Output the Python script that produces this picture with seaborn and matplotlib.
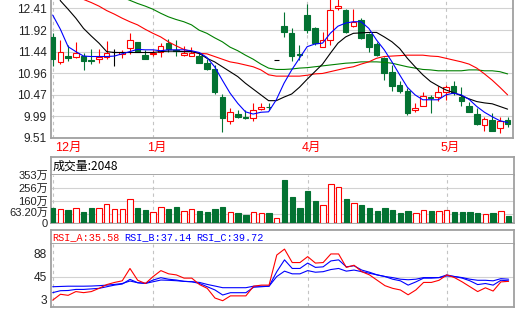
import numpy as np
import pandas as pd
import matplotlib
matplotlib.use("Agg")
import matplotlib.pyplot as plt
import matplotlib.transforms as mtransforms
import seaborn as sns

sns.set_style("white")
plt.rcParams["font.family"] = ["Liberation Sans", "Noto Sans CJK SC"]

# ---------------- data ----------------
open_ = [11.76, 11.21, 11.34, 11.31, 11.34, 11.25, 11.27, 11.31, 11.42, 11.39,
         11.51, 11.65, 11.36, 11.39, 11.44, 11.64, 11.48, 11.36, 11.34, 11.34,
         11.19, 11.05, 10.42, 9.89, 10.04, 9.98, 9.95, 10.15, 10.20, 11.25,
         12.02, 11.85, 11.38, 12.26, 11.96, 11.55, 11.70, 12.41, 12.37, 12.02,
         12.15, 11.84, 11.61, 11.29, 10.98, 10.69, 10.56, 10.13, 10.21, 10.43,
         10.43, 10.54, 10.67, 10.42, 10.22, 10.04, 9.80, 9.91, 9.72, 9.91]
high = [11.86, 11.70, 11.59, 11.66, 11.40, 11.49, 11.49, 11.67, 11.49, 11.48,
        11.85, 11.66, 11.48, 11.48, 11.64, 11.72, 11.70, 11.57, 11.55, 11.40,
        11.27, 11.14, 10.48, 10.17, 10.13, 10.13, 10.28, 10.28, 10.28, 11.25,
        12.33, 11.96, 11.59, 12.51, 12.00, 11.89, 12.62, 12.65, 12.39, 12.39,
        12.19, 11.86, 11.66, 11.33, 11.14, 10.79, 10.62, 10.28, 10.54, 10.47,
        10.67, 10.69, 10.79, 10.64, 10.32, 10.17, 9.97, 10.06, 9.97, 9.97]
low = [11.12, 11.16, 11.23, 11.29, 11.03, 11.16, 11.18, 11.27, 11.12, 11.29,
       11.39, 11.42, 11.27, 11.34, 11.33, 11.42, 11.34, 11.34, 11.34, 11.18,
       11.03, 10.48, 9.64, 9.82, 9.95, 9.92, 9.89, 10.13, 10.12, 11.25,
       11.77, 11.24, 11.25, 11.85, 11.59, 11.54, 11.59, 12.37, 11.86, 12.00,
       11.72, 11.44, 11.34, 10.80, 10.56, 10.51, 10.02, 10.09, 10.21, 10.07,
       10.34, 10.36, 10.47, 10.21, 10.09, 9.80, 9.66, 9.67, 9.61, 9.76]
close = [11.28, 11.44, 11.30, 11.40, 11.24, 11.24, 11.33, 11.40, 11.42, 11.44,
         11.70, 11.44, 11.27, 11.40, 11.57, 11.49, 11.45, 11.40, 11.41, 11.19,
         11.05, 10.54, 9.96, 10.08, 9.97, 9.95, 10.13, 10.19, 10.19, 11.25,
         11.89, 11.35, 11.36, 11.92, 11.63, 11.69, 12.37, 12.46, 11.89, 12.11,
         11.74, 11.55, 11.36, 10.97, 10.67, 10.56, 10.06, 10.18, 10.45, 10.39,
         10.54, 10.65, 10.51, 10.34, 10.09, 9.82, 9.93, 9.67, 9.89, 9.82]

ma5 = [12.26, 11.94, 11.55, 11.44, 11.34, 11.33, 11.33, 11.33, 11.34, 11.39,
       11.44, 11.49, 11.48, 11.48, 11.46, 11.48, 11.48, 11.48, 11.46, 11.42,
       11.31, 11.10, 10.80, 10.51, 10.28, 10.09, 10.04, 10.08, 10.09, 10.36,
       10.73, 11.03, 11.29, 11.55, 11.61, 11.63, 11.85, 12.01, 12.08, 12.11,
       12.11, 11.96, 11.70, 11.48, 11.21, 10.92, 10.64, 10.47, 10.36, 10.36,
       10.36, 10.47, 10.51, 10.47, 10.37, 10.21, 10.08, 9.98, 9.89, 9.85]
ma10 = [13.16, 12.58, 12.39, 12.19, 11.96, 11.79, 11.63, 11.44, 11.42, 11.42,
        11.42, 11.42, 11.42, 11.42, 11.44, 11.45, 11.45, 11.44, 11.44, 11.40,
        11.29, 11.21, 11.10, 10.99, 10.88, 10.73, 10.60, 10.47, 10.34, 10.34,
        10.42, 10.49, 10.64, 10.82, 10.99, 11.16, 11.40, 11.63, 11.77, 11.85,
        11.86, 11.87, 11.87, 11.77, 11.66, 11.51, 11.29, 11.10, 10.92, 10.77,
        10.67, 10.58, 10.52, 10.45, 10.38, 10.32, 10.29, 10.27, 10.21, 10.15]
ma20 = [np.nan, np.nan, np.nan, 12.69, 12.61, 12.54, 12.46, 12.36, 12.28, 12.19,
        12.11, 12.04, 11.94, 11.85, 11.77, 11.66, 11.57, 11.49, 11.44, 11.40,
        11.39, 11.33, 11.27, 11.21, 11.18, 11.14, 11.10, 11.03, 10.92, 10.89,
        10.89, 10.89, 10.89, 10.91, 10.94, 10.95, 10.99, 11.03, 11.07, 11.10,
        11.16, 11.21, 11.29, 11.33, 11.34, 11.35, 11.36, 11.36, 11.36, 11.34,
        11.33, 11.29, 11.25, 11.21, 11.16, 11.07, 10.94, 10.80, 10.64, 10.47]
ma60 = [np.nan, np.nan, np.nan, np.nan, np.nan, np.nan, np.nan, np.nan, np.nan, 12.66,
        12.59, 12.52, 12.46, 12.39, 12.30, 12.22, 12.16, 12.11, 12.04, 11.92,
        11.85, 11.75, 11.66, 11.54, 11.46, 11.36, 11.27, 11.16, 11.07, 11.04,
        11.04, 11.05, 11.07, 11.08, 11.10, 11.12, 11.14, 11.16, 11.18, 11.19,
        11.21, 11.21, 11.21, 11.20, 11.18, 11.14, 11.10, 11.07, 11.04, 11.03,
        11.01, 11.01, 11.01, 11.01, 11.03, 11.03, 11.01, 11.01, 10.99, 10.94]

volume = [110, 102, 97, 110, 83, 112, 110, 139, 102, 102,
          175, 112, 93, 83, 117, 105, 119, 90, 102, 90,
          78, 105, 119, 78, 71, 61, 83, 75, 75, 37,
          317, 192, 112, 236, 163, 134, 287, 263, 178, 148,
          134, 112, 90, 112, 97, 75, 90, 75, 97, 90,
          90, 97, 83, 83, 83, 75, 68, 75, 90, 53]

rsi_a = [1, 12, 10, 17, 15, 17, 23, 30, 34, 37,
         60, 38, 32, 45, 56, 50, 48, 42, 42, 30,
         23, 5, 0, 9, 9, 9, 27, 29, 29, 85,
         96, 71, 71, 82, 70, 71, 87, 87, 62, 66,
         54, 48, 38, 28, 23, 20, 11, 20, 34, 34,
         38, 48, 43, 35, 26, 17, 24, 18, 35, 36]
rsi_b = [15, 18.6, 19, 21, 21, 22, 23, 26, 29, 31,
         39.7, 33.5, 32.2, 38.5, 42.8, 40, 38.5, 36, 35.3, 32,
         26, 20, 10.6, 14.9, 14.9, 14.9, 25, 26, 27, 54,
         76, 60, 60, 70, 62, 63, 74, 76, 63, 65,
         57, 53, 48, 45, 40, 37, 29, 35, 42, 42,
         43, 48, 45, 42, 37, 30, 32, 29, 38, 37]
rsi_c = [26, 26.5, 27, 27, 27, 27.3, 28, 29, 30.3, 32,
         36.6, 33.5, 32.2, 35.3, 38.5, 38, 37.2, 36, 35.3, 34,
         30.3, 27.3, 24.2, 24.2, 24.2, 24.2, 27, 27, 27, 45,
         55, 50, 50, 56, 53, 54, 58, 60, 55, 57,
         54, 51, 48, 45, 43, 40, 39, 40, 43, 43,
         43, 46, 45, 43, 40, 38, 38, 37, 41, 40]

price_ticks = [9.51, 9.99, 10.47, 10.96, 11.44, 11.92, 12.41]
vol_ticks = [0, 63.2, 160, 256, 353]
vol_tick_labels = ["0", "63.20万", "160万", "256万", "353万"]
rsi_ticks = [3, 45, 88]
month_labels = ["12月", "1月", "4月", "5月"]
month_starts = [0, 13, 33, 51]
vol_title = "成交量:2048"
rsi_titles = ["RSI_A:35.58", "RSI_B:37.14", "RSI_C:39.72"]

# ---------------- style ----------------
W, H = 523, 312
RED = "#ff0000"
GREEN = "#037232"
SPINE = "#a0a0a0"
GRID = "#d2d2d2"
DASH = "#c4c4c4"
TXT = "#222222"

df = pd.DataFrame({"i": np.arange(len(close)), "open": open_, "high": high,
                   "low": low, "close": close, "ma5": ma5, "ma10": ma10,
                   "ma20": ma20, "ma60": ma60, "vol": volume,
                   "rsi_a": rsi_a, "rsi_b": rsi_b, "rsi_c": rsi_c})
x = df["i"].values
o = df["open"].values
c = df["close"].values

fig = plt.figure(figsize=(W / 100, H / 100), dpi=100)
fig.patch.set_facecolor("white")


def axes_px(l, t, r, b):
    return fig.add_axes([l / W, 1 - b / H, (r - l) / W, (b - t) / H])


XLIM = (-0.22, 59.7)


def style_spines(ax, top=True):
    for s in ax.spines.values():
        s.set_color(SPINE)
        s.set_linewidth(1.3)
    ax.spines["top"].set_visible(top)


def month_lines(ax):
    for m in month_starts:
        ax.axvline(m, color=DASH, lw=0.8, ls=(0, (3, 3)), zorder=1)


# ---------------- main price panel ----------------
ax = axes_px(51, 0, 513, 138)
ax.set_xlim(*XLIM)
ax.set_ylim(9.503, 12.597)
style_spines(ax, top=False)
ax.set_yticks(price_ticks)
ax.set_yticklabels([f"{t:.2f}" for t in price_ticks])
ax.tick_params(axis="y", length=0, pad=3, labelsize=8.6, labelcolor=TXT)
ax.set_xticks([])
for t in price_ticks:
    ax.axhline(t, color=GRID, lw=0.8, zorder=0)
month_lines(ax)

ccol = np.where(c > o, RED, np.where(c < o, GREEN, "black"))
face = np.where(c > o, "white", ccol)
ax.vlines(x, df["low"], df["high"], colors=ccol, lw=0.8, zorder=3)
ax.bar(x, np.abs(c - o), bottom=np.minimum(o, c), width=0.72, color=face,
       edgecolor=ccol, linewidth=0.8, zorder=4)

for col, colr in [("ma60", "#008000"), ("ma20", RED), ("ma10", "black"), ("ma5", "#0000ff")]:
    sns.lineplot(data=df, x="i", y=col, ax=ax, color=colr, lw=0.8,
                 estimator=None, sort=False, zorder=5)
ax.set_xlabel("")
ax.set_ylabel("")

# month labels
for lab, m in zip(month_labels, month_starts):
    px = 52.7 + 7.71 * m
    if m == 0:
        fig.text(55 / W, 1 - 148 / H, lab, color=RED, fontsize=9, ha="left", va="center")
    else:
        fig.text((px + 4) / W, 1 - 148 / H, lab, color=RED, fontsize=9, ha="center", va="center")

# ---------------- volume panel ----------------
axvt = axes_px(51, 157, 514, 175)
axvt.set_xticks([]); axvt.set_yticks([])
style_spines(axvt)
axvt.text(2 / 463, 0.5, vol_title, transform=axvt.transAxes, fontsize=8.6,
          va="center", ha="left", color="black", family=["Noto Sans CJK SC"])

axv = axes_px(51, 175, 514, 223)
axv.set_xlim(*XLIM)
axv.set_ylim(0, 353)
style_spines(axv, top=False)
axv.set_xticks([])
axv.set_yticks(vol_ticks)
axv.set_yticklabels(vol_tick_labels)
axv.tick_params(axis="y", length=0, pad=2, labelsize=8.0, labelcolor=TXT)
# nudge the low label upwards a little so it does not collide with "0"
lbls = axv.get_yticklabels()
shift = mtransforms.ScaledTranslation(0, 2.0 / 100, fig.dpi_scale_trans)
lbls[1].set_transform(lbls[1].get_transform() + shift)
for t in vol_ticks[1:-1]:
    axv.axhline(t, color=GRID, lw=0.8, zorder=0)
month_lines(axv)
vcol = np.where(c >= o, RED, GREEN)
vface = np.where(c >= o, "white", GREEN)
axv.bar(x, df["vol"], width=0.7, color=vface, edgecolor=vcol, linewidth=0.8, zorder=3)

# ---------------- RSI panel ----------------
axrt = axes_px(51, 230, 514, 244)
axrt.set_xticks([]); axrt.set_yticks([])
style_spines(axrt)
for txt, px, colr in zip(rsi_titles, [52, 124, 196], [RED, "#0000ff", "#0000ff"]):
    fig.text(px / W, 1 - 237 / H, txt, color=colr, fontsize=7.3, va="center",
             ha="left", family=["Liberation Mono"])

axr = axes_px(51, 244, 514, 307)
axr.set_xlim(*XLIM)
axr.set_ylim(-11.7, 105.5)
style_spines(axr, top=False)
axr.set_xticks([])
axr.set_yticks(rsi_ticks)
axr.set_yticklabels([str(t) for t in rsi_ticks])
axr.tick_params(axis="y", length=0, pad=3, labelsize=8.6, labelcolor=TXT)
axr.axhline(45, color=GRID, lw=0.8, zorder=0)
month_lines(axr)
for col, colr in [("rsi_c", "#0000ff"), ("rsi_b", "#0000ff"), ("rsi_a", RED)]:
    sns.lineplot(data=df, x="i", y=col, ax=axr, color=colr, lw=0.8,
                 estimator=None, sort=False, zorder=4)
axr.set_xlabel("")
axr.set_ylabel("")

fig.savefig("out.png", dpi=100, facecolor="white")
